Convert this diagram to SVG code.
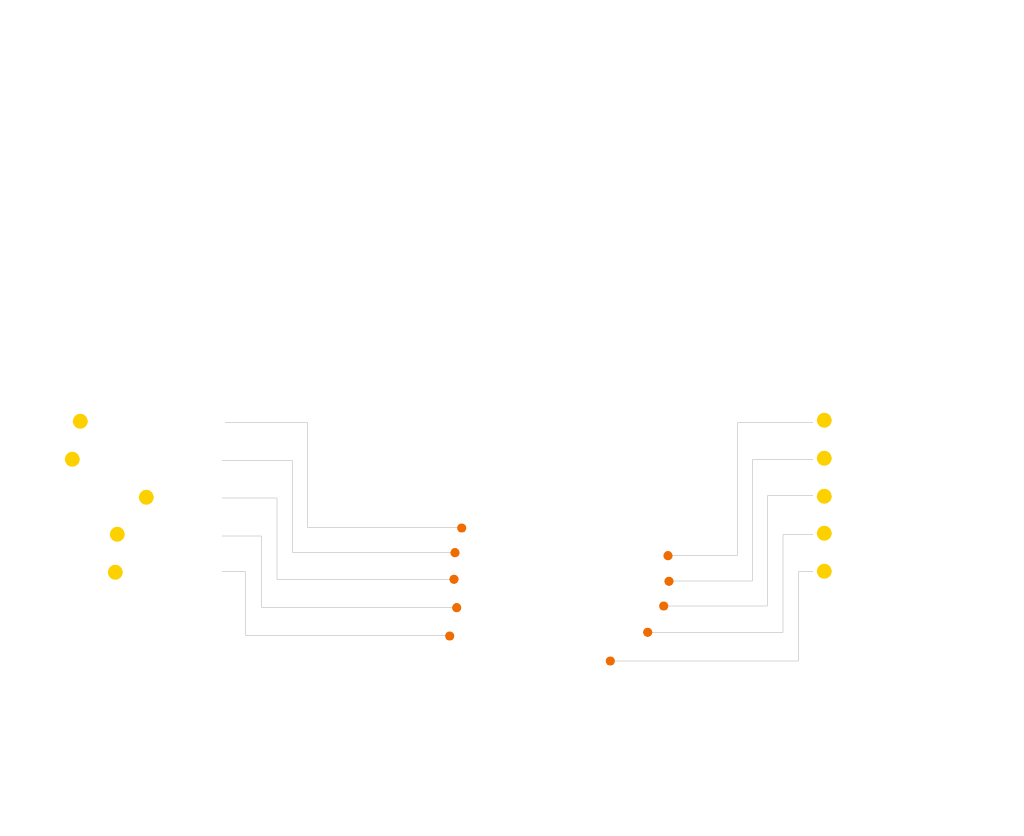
<svg xmlns="http://www.w3.org/2000/svg" width="1024" height="836" viewBox="0 0 1024 836">
<style>
.bg{fill:#ffffff}
.conn{fill:none;stroke:#d6d6d6;stroke-width:1}
.big{fill:#fdd000}
.small{fill:#ef6c00}
</style>
<rect class="bg" x="0" y="0" width="1024" height="836"/>
<g id="connectors">
<path class="conn" d="M225,422.5 H307.5 V527.5 H461"/>
<path class="conn" d="M222,460.5 H292.5 V552.5 H455"/>
<path class="conn" d="M222,498 H277 V579.5 H454"/>
<path class="conn" d="M222,536 H261.5 V607.5 H457"/>
<path class="conn" d="M222,571.5 H245.5 V635.5 H449"/>
<path class="conn" d="M813,422.5 H737.5 V555.5 H668"/>
<path class="conn" d="M813,459.5 H752.5 V581 H669"/>
<path class="conn" d="M813,495.5 H767.5 V606 H664"/>
<path class="conn" d="M813,534.5 H783 V632.5 H648"/>
<path class="conn" d="M813,571.5 H798.5 V661 H610"/>
</g>
<g id="left-1"><circle class="big" cx="80.3" cy="421.3" r="7.5"/></g>
<g id="left-2"><circle class="big" cx="72.3" cy="459.3" r="7.5"/></g>
<g id="left-3"><circle class="big" cx="146.3" cy="497.3" r="7.5"/></g>
<g id="left-4"><circle class="big" cx="117.3" cy="534.3" r="7.5"/></g>
<g id="left-5"><circle class="big" cx="115.3" cy="572.3" r="7.5"/></g>
<g id="left-end-1"><circle class="small" cx="461.7" cy="528" r="4.6"/></g>
<g id="left-end-2"><circle class="small" cx="455" cy="552.7" r="4.6"/></g>
<g id="left-end-3"><circle class="small" cx="454" cy="579.3" r="4.6"/></g>
<g id="left-end-4"><circle class="small" cx="456.7" cy="607.7" r="4.6"/></g>
<g id="left-end-5"><circle class="small" cx="449.7" cy="636" r="4.6"/></g>
<g id="right-1"><circle class="big" cx="824.3" cy="420.3" r="7.5"/></g>
<g id="right-2"><circle class="big" cx="824.3" cy="458.3" r="7.5"/></g>
<g id="right-3"><circle class="big" cx="824.3" cy="496.3" r="7.5"/></g>
<g id="right-4"><circle class="big" cx="824.3" cy="533.3" r="7.5"/></g>
<g id="right-5"><circle class="big" cx="824.3" cy="571.3" r="7.5"/></g>
<g id="right-end-1"><circle class="small" cx="668" cy="555.7" r="4.6"/></g>
<g id="right-end-2"><circle class="small" cx="669" cy="581.3" r="4.6"/></g>
<g id="right-end-3"><circle class="small" cx="663.7" cy="606" r="4.6"/></g>
<g id="right-end-4"><circle class="small" cx="647.7" cy="632.3" r="4.6"/></g>
<g id="right-end-5"><circle class="small" cx="610.3" cy="661" r="4.6"/></g>
</svg>
